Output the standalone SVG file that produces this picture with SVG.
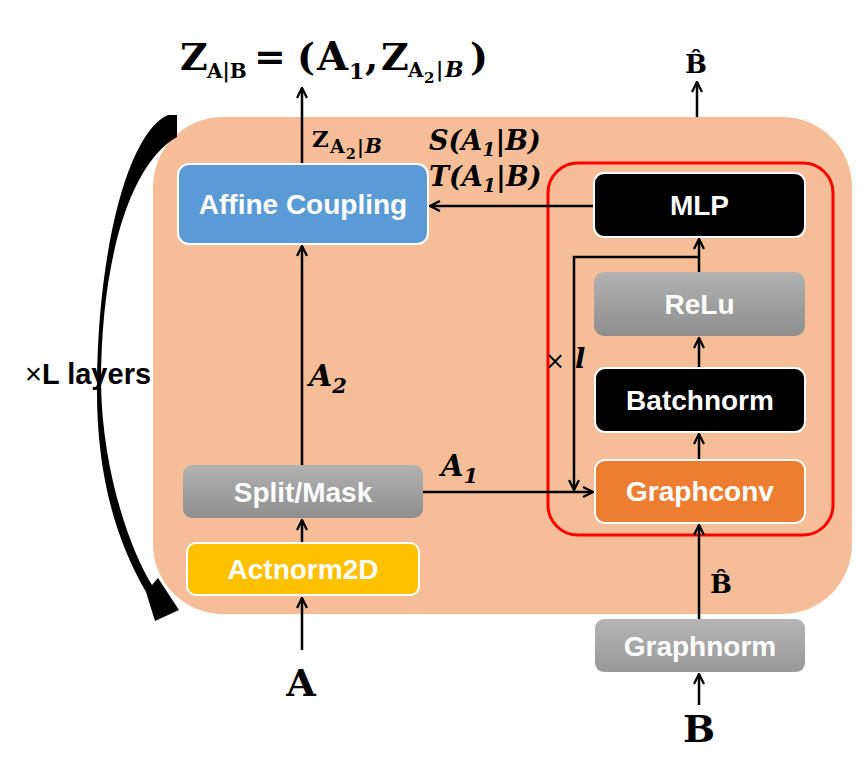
<svg xmlns="http://www.w3.org/2000/svg" width="868" height="770" viewBox="0 0 868 770">
<defs>
<linearGradient id="gray" x1="0" y1="0" x2="0" y2="1"><stop offset="0" stop-color="#B2B2B2"/><stop offset="1" stop-color="#8E8E8E"/></linearGradient>
<linearGradient id="gray2" x1="0" y1="0" x2="0" y2="1"><stop offset="0" stop-color="#B5B5B5"/><stop offset="1" stop-color="#989898"/></linearGradient>
<marker id="ah" viewBox="0 0 12 12" refX="11" refY="6" markerWidth="12" markerHeight="12" markerUnits="userSpaceOnUse" orient="auto"><path d="M1,1 L11,6 L1,11" fill="none" stroke="#000" stroke-width="2.3"/></marker>
</defs>
<style>
.node{stroke:#fff;stroke-width:2}
.lbl{font-family:"Liberation Sans",Arial,sans-serif;font-weight:bold;font-size:28px;fill:#fff;text-anchor:middle}
.m{font-family:"DejaVu Serif","Liberation Serif",serif;font-weight:bold;fill:#000}
.mi{font-family:"DejaVu Serif","Liberation Serif",serif;font-weight:bold;font-style:italic;fill:#000}
.it{font-style:italic}
.conn path{fill:none;stroke:#000;stroke-width:2.5}
</style>
<rect width="868" height="770" fill="#fff"/>
<rect id="layer" x="153" y="117" width="699" height="497" rx="70" fill="#F5BE98"/>
<rect id="gnn-block" x="548" y="163" width="285" height="372" rx="30" fill="none" stroke="#FF0000" stroke-width="3"/>

<g id="loop-arrow">
<path d="M177,115 L168,115 C128,132 98,250 97,383 C96,460 110,530 146,592 L155,621 L179,610 L158,578 L152,585 C130,550 102,470 101,383 C101,265 128,165 177,137 Z" fill="#000"/>
<text x="25" y="384" font-family="'Liberation Sans',Arial,sans-serif" font-weight="bold" font-size="29" fill="#000"><tspan font-weight="normal">×</tspan>L layers</text>
</g>

<g class="conn" id="connectors">
<path d="M302,650 V598" marker-end="url(#ah)"/>
<path d="M302,543 V520" marker-end="url(#ah)"/>
<path d="M302,465 V246" marker-end="url(#ah)"/>
<path d="M302,164 V88" marker-end="url(#ah)"/>
<path d="M423,492 H593" marker-end="url(#ah)"/>
<path d="M594,206 H430" marker-end="url(#ah)"/>
<path d="M699,460 V434" marker-end="url(#ah)"/>
<path d="M699,368 V338" marker-end="url(#ah)"/>
<path d="M699,272 V239" marker-end="url(#ah)"/>
<path d="M699,257 H574 V490" marker-end="url(#ah)"/>
<path d="M699,619 V525" marker-end="url(#ah)"/>
<path d="M699,705 V674" marker-end="url(#ah)"/>
<path d="M697,117 V82" marker-end="url(#ah)"/>
</g>

<g id="affine"><rect class="node" x="178" y="164" width="250" height="80" rx="11" fill="#5B9BD5"/><text class="lbl" x="303" y="214">Affine Coupling</text></g>
<g id="split"><rect x="183" y="465" width="240" height="53" rx="9" fill="url(#gray)"/><text class="lbl" x="303" y="502">Split/Mask</text></g>
<g id="actnorm"><rect class="node" x="187" y="543" width="232" height="52" rx="9" fill="#FFC000"/><text class="lbl" x="303" y="579">Actnorm2D</text></g>
<g id="mlp"><rect class="node" x="594" y="173" width="211" height="64" rx="10" fill="#000"/><text class="lbl" x="699.5" y="215">MLP</text></g>
<g id="relu"><rect x="594" y="272" width="211" height="64" rx="10" fill="url(#gray)"/><text class="lbl" x="699.5" y="314">ReLu</text></g>
<g id="batchnorm"><rect class="node" x="595" y="368" width="210" height="64" rx="10" fill="#000"/><text class="lbl" x="700" y="410">Batchnorm</text></g>
<g id="graphconv"><rect class="node" x="595" y="460" width="210" height="63" rx="10" fill="#ED7D31"/><text class="lbl" x="700" y="501">Graphconv</text></g>
<g id="graphnorm"><rect x="595" y="619" width="210" height="53" rx="9" fill="url(#gray2)"/><text class="lbl" x="700" y="656">Graphnorm</text></g>

<g id="labels">
<text class="m" font-size="38"><tspan x="180" y="70">Z</tspan><tspan x="207" y="78" font-size="20">A|B</tspan><tspan x="254" y="70">=</tspan><tspan x="297" y="70">(</tspan><tspan x="317" y="70" font-size="40">A</tspan><tspan x="349" y="79" font-size="22">1</tspan><tspan x="365" y="70">,</tspan><tspan x="381" y="70">Z</tspan><tspan x="408" y="77" font-size="20">A</tspan><tspan x="424" y="83" font-size="15">2</tspan><tspan x="436" y="77" font-size="20">|</tspan><tspan class="it" x="445" y="77" font-size="22">B</tspan><tspan x="470" y="70">)</tspan></text>

<text class="m" font-size="23"><tspan x="312" y="147">Z</tspan><tspan x="330" y="153" font-size="19">A</tspan><tspan x="346" y="159" font-size="14">2</tspan><tspan x="357" y="153" font-size="19">|</tspan><tspan class="it" x="365" y="153" font-size="20">B</tspan></text>

<text class="mi" x="429" y="150" font-size="27">S(A<tspan font-size="19" dy="6">1</tspan><tspan dy="-6">|B)</tspan></text>
<text class="mi" x="429" y="186" font-size="27">T(A<tspan font-size="19" dy="6">1</tspan><tspan dy="-6">|B)</tspan></text>

<text class="mi" x="309" y="386" font-size="30">A<tspan font-size="21" dy="7">2</tspan></text>
<text class="mi" x="441" y="476" font-size="29">A<tspan font-size="21" dy="7">1</tspan></text>

<text x="545" y="369" font-family="'DejaVu Serif',serif" font-size="24" fill="#000">×</text>
<text class="mi" x="575" y="368" font-size="27">l</text>

<text class="m" x="696" y="73" font-size="26" text-anchor="middle">B̂</text>
<text class="m" x="721" y="593" font-size="26" text-anchor="middle">B̂</text>
<text class="m" x="699" y="742" font-size="38" text-anchor="middle">B</text>
<text class="m" x="301" y="696" font-size="38" text-anchor="middle">A</text>
</g>
</svg>
